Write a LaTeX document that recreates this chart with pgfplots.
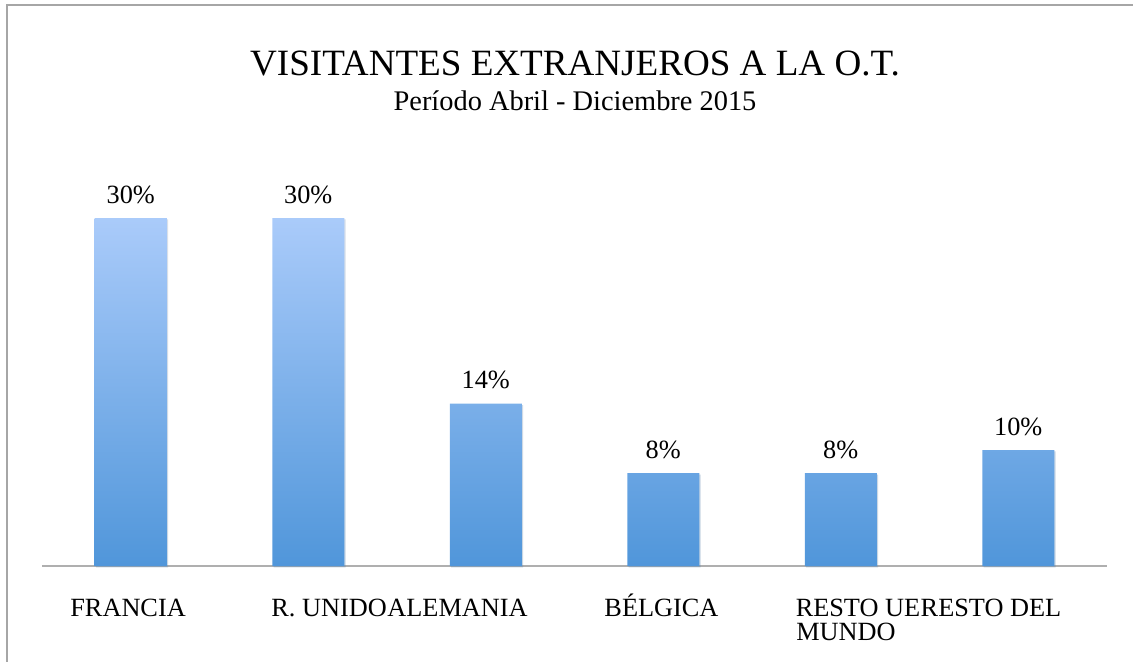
\documentclass[border=0pt]{standalone}
\usepackage{pgfplots}
\pgfplotsset{compat=1.18}
\usepackage{fontspec}
\setmainfont{Liberation Serif}
\usetikzlibrary{shadows}
\definecolor{bartop}{RGB}{170,203,250}
\definecolor{barbot}{RGB}{80,150,218}
\definecolor{framegray}{RGB}{166,166,166}
\definecolor{axline}{RGB}{175,175,175}
% label whose text starts #1 from the tick
\newcommand{\lbl}[2]{\makebox[0pt][l]{\hspace*{#1}#2}}

\begin{document}
\begin{tikzpicture}
\path[use as bounding box] (0,0) rectangle (566.5pt,-330.5pt);
\draw[framegray, line width=1pt] (3.5pt,-331pt) -- (3.5pt,-2.5pt) -- (567pt,-2.5pt);
\node[anchor=base, inner sep=0pt, font=\fontsize{18.55}{22}\selectfont] at (287.5pt,-37.85pt) {VISITANTES EXTRANJEROS A LA O.T.};
\node[anchor=base, inner sep=0pt, font=\fontsize{14.2}{16}\selectfont] at (287.5pt,-55pt) {Período Abril - Diciembre 2015};
\begin{axis}[
    at={(21pt,-283pt)}, anchor=south west,
    scale only axis, width=532.5pt, height=174pt,
    xmin=-0.5, xmax=5.5, ymin=0, ymax=30,
    axis x line*=bottom, axis y line=none,
    x axis line style={axline, line width=0.8pt},
    xtick={0,...,5}, ytick=\empty,
    xtick style={draw=none},
    xticklabels={
      \lbl{-30.2pt}{FRANCIA},
      \lbl{-18.4pt}{R. UNIDO},
      \lbl{-106.9pt}{\hphantom{R. UNIDO}ALEMANIA},
      \lbl{-29.4pt}{BÉLGICA},
      \lbl{-22.5pt}{RESTO UE},
      {\lbl{-111pt}{\begin{tabular}[t]{@{}l@{}}\hphantom{RESTO UE}RESTO DEL\\MUNDO\end{tabular}}}
    },
    xticklabel style={anchor=base, yshift=-25pt, font=\fontsize{13.15}{12}\selectfont},
    clip=false,
  ]
\addplot[ybar, bar width=36pt, bar shift=0pt, draw=none,
         top color=bartop, bottom color=barbot,
         drop shadow={shadow xshift=0.7pt, shadow yshift=-0.7pt, opacity=0.2}]
  coordinates {(0,30) (1,30) (2,14) (3,8) (4,8) (5,10)};
\addplot[draw=none, mark=none,
         nodes near coords={\pgfmathprintnumber[assume math mode=true]{\pgfplotspointmeta}\%},
         every node near coord/.append style={anchor=base, yshift=7.5pt, text=black,
           font=\fontsize{13.15}{15}\selectfont}]
  coordinates {(0,30) (1,30) (2,14) (3,8) (4,8) (5,10)};
\end{axis}
\end{tikzpicture}
\end{document}
